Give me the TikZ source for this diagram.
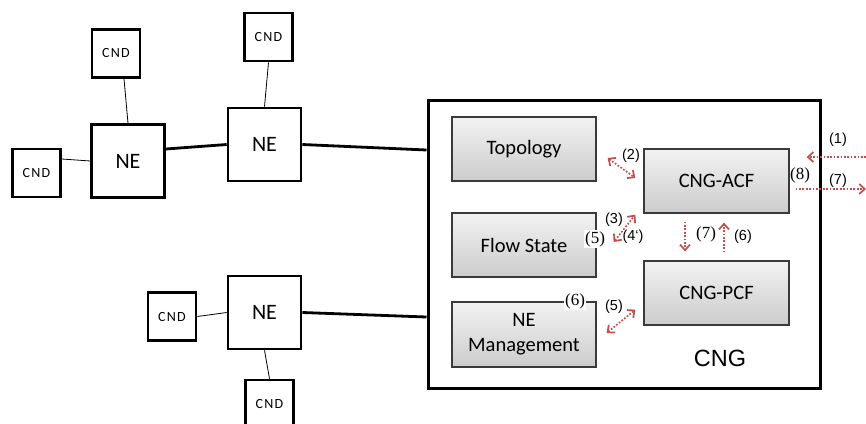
\documentclass[tikz,border=0pt]{standalone}
\usepackage{fontspec}
\setmainfont{Carlito}
\newfontfamily\numserif{Liberation Serif}
\newfontfamily\arialfont{Liberation Sans}
\newfontfamily\cndfont[LetterSpace=9]{Carlito}
\usetikzlibrary{arrows.meta}
\definecolor{sigred}{HTML}{C0504D}
\definecolor{boxedge}{HTML}{3A3A3A}
\begin{document}
\begin{tikzpicture}[x=1pt,y=-1pt,
  nebox/.style={draw=black, line width=2.6pt, fill=white, inner sep=0pt,
    minimum width=73pt, minimum height=73pt, font=\fontsize{22}{24}\selectfont},
  cndbox/.style={draw=black, line width=2.6pt, fill=white, inner sep=0pt,
    minimum width=48pt, minimum height=48pt, font=\cndfont\fontsize{14}{16}\selectfont},
  funcbox/.style={draw=boxedge, line width=1.3pt, top color=gray!10, bottom color=gray!40,
    inner sep=0pt, minimum width=144pt, minimum height=64pt, align=center,
    font=\fontsize{20.5}{25}\selectfont},
  trunk/.style={line width=2.8pt},
  spur/.style={line width=0.8pt},
  sig/.style={draw=sigred, line width=1.7pt, dash pattern=on 1.7pt off 1.7pt},
  tip/.tip={Straight Barb[length=5.5pt, width=10pt, line width=1.7pt]},
  biarrow/.style={sig, {tip}-{tip}},
  onearrow/.style={sig, -{tip}},
  tag/.style={inner sep=0.5pt, font=\arialfont\fontsize{14.5}{16}\selectfont},
  sertag/.style={inner sep=1.5pt, fill=white, font=\numserif\fontsize{17}{19}\selectfont}
]
\useasboundingbox (0,0) rectangle (866,423);

% controller box and its functions
\node[draw=black, line width=3pt, minimum width=392pt, minimum height=288pt, inner sep=0pt]
  (cng) at (624,244) {};
\node[font=\arialfont\fontsize{23.5}{26}\selectfont] (cnglabel) at (720,358) {CNG};

\node[funcbox] (topo) at (524,149) {Topology};
\node[funcbox] (flow) at (524,245) {Flow State};
\node[funcbox, minimum height=65pt] (nem) at (524,334.5) {NE\\Management};
\node[funcbox, minimum width=145pt] (acf) at (716.5,181) {CNG-ACF};
\node[funcbox, minimum width=145pt] (pcf) at (716.5,293) {CNG-PCF};

% network elements and attached devices
\node[nebox] (ne1) at (128,161) {NE};
\node[nebox] (ne2) at (264.5,144.5) {NE};
\node[nebox] (ne3) at (264.5,312.5) {NE};
\node[cndbox] (cnda) at (116,53.5) {CND};
\node[cndbox] (cndb) at (36.5,173) {CND};
\node[cndbox] (cndc) at (268.5,37) {CND};
\node[cndbox] (cndd) at (172,316.5) {CND};
\node[cndbox] (cnde) at (269.5,404) {CND};

% links
\draw[spur] (ne1.north) -- ([xshift=8pt]cnda.south);
\draw[spur] (ne1.west) -- ([yshift=14pt]cndb.east);
\draw[trunk] ([yshift=12pt]ne1.east) -- (ne2.west);
\draw[spur] (ne2.north) -- (cndc.south);
\draw[trunk] (ne2.east) -- ([yshift=94pt]cng.west);
\draw[spur] (ne3.west) -- (cndd.east);
\draw[spur] (ne3.south) -- (cnde.north);
\draw[trunk] (ne3.east) -- ([yshift=-73pt]cng.west);

% signalling between functions
\coordinate (extin) at (866,157);
\coordinate (extout) at (866,189);

\draw[biarrow] ([shift={(11,9)}]topo.east) -- ([shift={(-8,-3)}]acf.west);
\draw[biarrow] ([shift={(17,-3)}]flow.east) -- ([shift={(-8,1)}]acf.south west);
\draw[biarrow] ([shift={(10,-1.5)}]nem.east) -- ([shift={(-8,-16)}]pcf.south west);
\draw[onearrow] ([shift={(-31.5,8)}]acf.south) -- ([shift={(-31.5,-9)}]pcf.north);
\draw[onearrow] ([shift={(7.5,-8)}]pcf.north) -- ([shift={(7.5,9)}]acf.south);
\draw[onearrow] (extin) -- ([shift={(17,-24)}]acf.east);
\draw[onearrow] ([shift={(6,8)}]acf.east) -- (extout);

% message numbers
\node[tag] (m2) at (631,156) {(2)};
\node[tag] (m3) at (614,220) {(3)};
\node[tag] (m4) at (633,237) {(4‘)};
\node[sertag] (m5a) at (595,239) {(5)};
\node[tag] (m5b) at (614,307) {(5)};
\node[sertag] (m6a) at (575,301) {(6)};
\node[tag, font=\numserif\fontsize{17}{19}\selectfont] (m7a) at (706,234) {(7)};
\node[tag] (m6b) at (743,237) {(6)};
\node[tag] (m1) at (838,140) {(1)};
\node[tag, font=\numserif\fontsize{17}{19}\selectfont] (m8) at (800,175) {(8)};
\node[tag] (m7b) at (838,181) {(7)};
\end{tikzpicture}
\end{document}
